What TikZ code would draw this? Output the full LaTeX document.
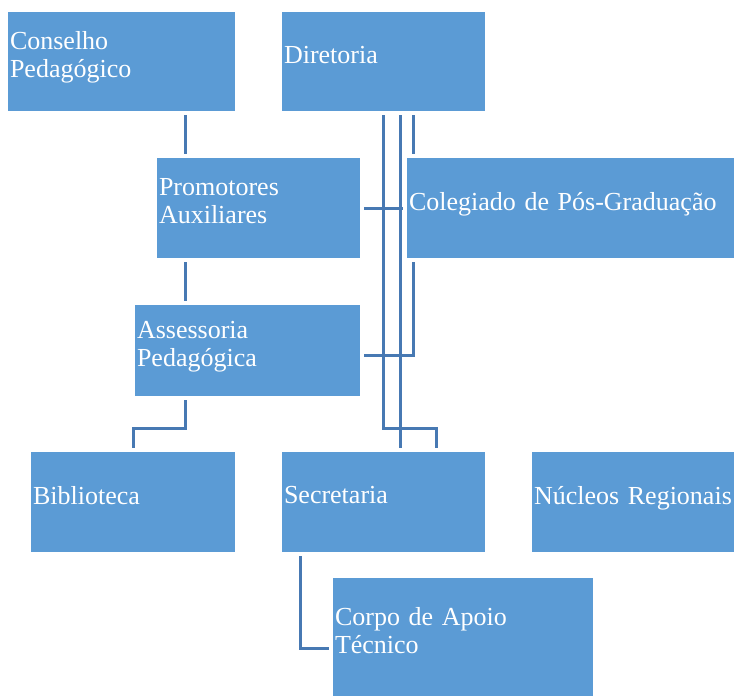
\documentclass[tikz,border=0pt]{standalone}
\usepackage{fontspec}
\setmainfont{Liberation Serif}
\usepackage{xcolor}
\definecolor{boxblue}{HTML}{5B9BD5}
\definecolor{lineblue}{HTML}{4779B3}
\tikzset{
  unit/.style={fill=boxblue, text=white, align=left, inner xsep=2pt, inner ysep=0pt,
    font=\fontsize{26}{28}\selectfont},
  oneline/.style={unit, text depth=14pt},
  twoline/.style={unit, text depth=42pt},
  link/.style={draw=lineblue, line width=3pt, shorten <=4pt, shorten >=4pt}
}
\begin{document}
\begin{tikzpicture}[x=1pt,y=-1pt]
  \useasboundingbox (0,0) rectangle (734,696);
  % units
  \node[twoline, text width=223pt, minimum height=99pt] (conselho) at (121.5,61.5) {Conselho\\Pedagógico};
  \node[oneline, text width=199pt, minimum height=99pt] (diretoria) at (383.5,61.5) {Diretoria};
  \node[twoline, text width=199pt, minimum height=100pt] (promotores) at (258.5,208) {Promotores\\Auxiliares};
  \node[oneline, text width=323pt, minimum height=100pt] (colegiado) at (570.5,208) {Colegiado de Pós-Graduação};
  \node[twoline, text width=221pt, minimum height=91pt] (assessoria) at (247.5,350.5) {Assessoria\\Pedagógica};
  \node[oneline, text width=200pt, minimum height=100pt] (biblioteca) at (133,502) {Biblioteca};
  \node[oneline, text width=199pt, minimum height=100pt] (secretaria) at (383.5,502) {Secretaria};
  \node[oneline, text width=198pt, minimum height=100pt] (nucleos) at (633,502) {Núcleos~Regionais};
  \node[twoline, text width=256pt, minimum height=118pt] (corpo) at (463,637) {Corpo de Apoio\\Técnico};
  % links
  \draw[link] (conselho.south -| 185,0) -- (promotores.north -| 185,0);
  \draw[link] (promotores.south -| 185,0) -- (assessoria.north -| 185,0);
  \draw[link] (assessoria.south -| 185,0) -- (185,428) -| (biblioteca.north -| 133,0);
  \draw[link] (diretoria.south -| 383,0) -- (383,428) -| (secretaria.north -| 436,0);
  \draw[link] (diretoria.south -| 400,0) -- (secretaria.north -| 400,0);
  \draw[link] (diretoria.south -| 413,0) -- (colegiado.north -| 413,0);
  \draw[link] (promotores.east) -- (colegiado.west);
  \draw[link] (colegiado.south -| 413,0) -- (413,355) -- (assessoria.east |- 0,355);
  \draw[link] (secretaria.south -| 300,0) |- (corpo.west |- 0,648);
\end{tikzpicture}
\end{document}
